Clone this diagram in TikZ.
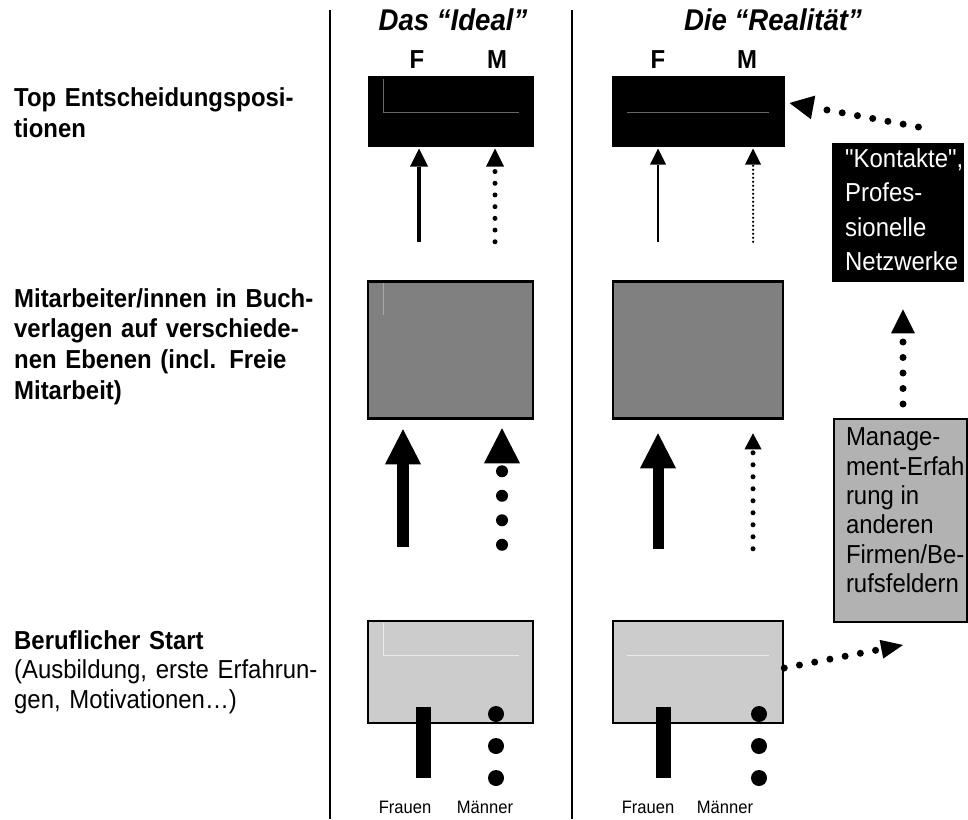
\documentclass[tikz,border=0pt]{standalone}
\usepackage{fontspec}
\setmainfont{Liberation Sans}[FakeStretch=0.92,Ligatures=TeXOff]
\usetikzlibrary{arrows.meta}

\tikzset{
  rowlabel/.style={anchor=base west,inner sep=0pt,text width=320pt,align=left,font=\fontsize{26}{30.5}\selectfont},
  colhead/.style={anchor=base,inner sep=0pt,font=\fontsize{30}{36}\selectfont\bfseries\itshape},
  sexhead/.style={anchor=base,inner sep=0pt,font=\fontsize{26}{30}\selectfont\bfseries},
  sexfoot/.style={anchor=base,inner sep=0pt,font=\fontsize{18}{22}\selectfont},
  topbox/.style={rectangle,fill=black,draw=black,line width=1pt,minimum height=70pt,inner sep=0pt},
  midbox/.style={rectangle,fill=black!50,draw=black,line width=2.5pt,minimum height=137pt,inner sep=0pt},
  startbox/.style={rectangle,fill=black!20,draw=black,line width=2.5pt,minimum height=102pt,inner sep=0pt},
  sidebox/.style={rectangle,anchor=north west,inner xsep=13pt,font=\fontsize{26}{34.5}\selectfont},
  bigup/.style={line width=12pt,-{Triangle[width=36pt,length=35pt,line width=0pt]}},
  midup/.style={line width=4.5pt,-{Triangle[width=18pt,length=18pt,line width=0pt]}},
  thinup/.style={line width=2pt,-{Triangle[width=16pt,length=16pt,line width=0pt]}},
  bigdots/.style={line width=12pt,line cap=round,dash pattern=on 0pt off 24.5pt,-{Triangle[width=36pt,length=35pt,line width=0pt]}},
  middots/.style={line width=5pt,line cap=round,dash pattern=on 0pt off 11.7pt,-{Triangle[width=18pt,length=18pt,line width=0pt]}},
  smalldots/.style={line width=2.5pt,line cap=round,dash pattern=on 0pt off 4pt,-{Triangle[width=16pt,length=16pt,line width=0pt]}},
  linkdots/.style={line width=7pt,line cap=round,dash pattern=on 0pt off 15.5pt,-{Triangle[width=24pt,length=24pt,line width=0pt]}},
  faint/.style={line width=0.7pt}
}

\begin{document}
\begin{tikzpicture}[x=1pt,y=-1pt]
                \useasboundingbox (0,0) rectangle (968,819);

                \draw[line width=2pt] (330,10) -- (330,819) (572,10) -- (572,819);

                \node (ideal) [colhead] at (453,30) {Das “Ideal”};
                \node (real) [colhead] at (773,30) {Die “Realität”};
                \node (ifh) [sexhead] at (417,68) {F};
                \node (imh) [sexhead] at (497,68) {M};
                \node (rfh) [sexhead] at (658,68) {F};
                \node (rmh) [sexhead] at (747,68) {M};

                \node (toplbl) [rowlabel,font=\fontsize{26}{31.5}\selectfont\bfseries] at (14,106) {Top Entscheidungsposi-\\tionen};
                \node (midlbl) [rowlabel,font=\fontsize{26}{30.7}\selectfont\bfseries] at (14,307) {Mitarbeiter/innen in Buch-\\verlagen auf verschiede-\\nen Ebenen (incl. Freie\\Mitarbeit)};
                \node (startlbl) [rowlabel,font=\fontsize{26}{29.5}\selectfont] at (14,649) {\textbf{Beruflicher Start}\\(Ausbildung, erste Erfahrun-\\gen, Motivationen…)};

                \node (itop) [topbox,minimum width=165pt] at (450.5,111) {};
                \node (rtop) [topbox,minimum width=172pt] at (698,111) {};
                \node (imid) [midbox,minimum width=165pt] at (450.5,350) {};
                \node (rmid) [midbox,minimum width=170pt] at (698,350) {};
                \node (ibot) [startbox,minimum width=165pt] at (450.5,672) {};
                \node (rbot) [startbox,minimum width=170pt] at (698,672) {};

                \draw[faint,black!60] (383,79) -- (383,112) -- (519,112) (627,112) -- (769,112);
                \draw[faint,black!35] (383,283) -- (383,315);
                \draw[faint,black!8] (383,623) -- (383,655) -- (519,655) (627,655) -- (769,655);

                \node (kontakte) [sidebox,fill=black,text=white,inner ysep=5pt] at (832,143)
                    {\parbox[t][129pt][t]{106pt}{\hyphenpenalty10000\exhyphenpenalty10000\raggedright "Kontakte",\\Profes-\\sionelle\\Netzwerke}};
                \node (mgmt) [sidebox,fill=black!30,draw=black,line width=2pt,inner xsep=12pt,inner ysep=9pt,font=\fontsize{26}{29.3}\selectfont] at (833,418)
                    {\parbox[t][185pt][t]{109pt}{\hyphenpenalty10000\exhyphenpenalty10000\raggedright Manage-\\ment-Erfah\\rung in\\anderen\\Firmen/Be-\\rufsfeldern}};

                \coordinate (iF1) at (419,0);
                \coordinate (iM1) at (495,0);
                \coordinate (iF2) at (403,0);
                \coordinate (iM2) at (502,0);
                \coordinate (rF) at (658,0);
                \coordinate (rM) at (753,0);
                \coordinate (mx) at (903,0);

                \draw[midup,shorten <=38.5pt,shorten >=2pt] (imid.north -| iF1) -- (itop.south -| iF1);
                \draw[middots,shorten <=38.5pt,shorten >=2pt] (imid.north -| iM1) -- (itop.south -| iM1);
                \draw[thinup,shorten <=38.5pt,shorten >=2pt] (rmid.north -| rF) -- (rtop.south -| rF);
                \draw[smalldots,shorten <=38.5pt,shorten >=2pt] (rmid.north -| rM) -- (rtop.south -| rM);

                \draw[bigup,shorten <=73pt,shorten >=9.5pt] (ibot.north -| iF2) -- (imid.south -| iF2);
                \draw[bigdots,shorten <=75pt,shorten >=8.5pt] (ibot.north -| iM2) -- (imid.south -| iM2);
                \draw[bigup,line width=11pt,shorten <=71pt,shorten >=13.5pt] (rbot.north -| rF) -- (rmid.south -| rF);
                \draw[middots,dash pattern=on 0pt off 12pt,-{Triangle[width=17pt,length=16pt,line width=0pt]},shorten <=71pt,shorten >=13.5pt] (rbot.north -| rM) -- (rmid.south -| rM);

                \draw[linkdots] ([shift={(-46pt,16pt)}]kontakte.north east) -- ([shift={(5pt,8pt)}]rtop.east);
                \draw[linkdots,shorten <=14pt,shorten >=27pt] (mgmt.north -| mx) -- (kontakte.south -| mx);
                \draw[linkdots,-{Triangle[width=19pt,length=22pt,line width=0pt]}] ([yshift=4pt]rbot.east) -- ([shift={(70pt,-22pt)}]mgmt.south west);

                \fill (416,707) rectangle (431,778);
                \fill (496,714) circle (8pt);
                \fill (496,746) circle (8pt);
                \fill (496,778) circle (8pt);
                \fill (656,707) rectangle (671,778);
                \fill (759,714) circle (8pt);
                \fill (759,746) circle (8pt);
                \fill (759,778) circle (8pt);

                \node (ifrauen) [sexfoot] at (405,813) {Frauen};
                \node (imaenner) [sexfoot] at (485,813) {Männer};
                \node (rfrauen) [sexfoot] at (648,813) {Frauen};
                \node (rmaenner) [sexfoot] at (725,813) {Männer};

            \end{tikzpicture}
\end{document}
